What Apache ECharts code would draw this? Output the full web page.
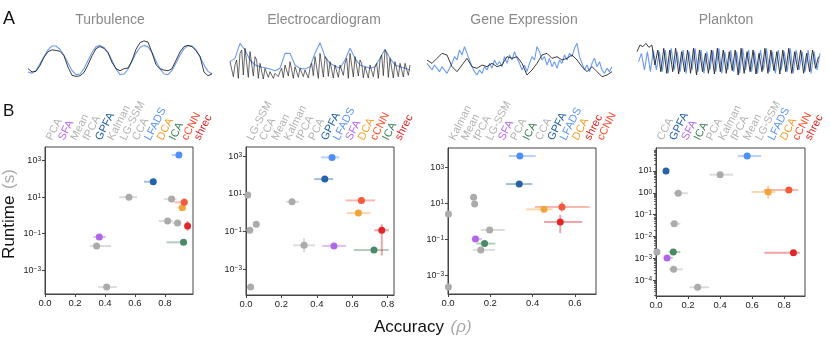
<!DOCTYPE html>
<html><head><meta charset="utf-8">
<script src="https://cdn.jsdelivr.net/npm/echarts@6/dist/echarts.min.js"></script>
<style>html,body{margin:0;padding:0;background:#fff}#c{width:830px;height:341px}</style>
</head><body><div id="c"></div><script>
// ---------- Panel A: example traces (observed = black, model = blue) ----------
const datasetTitles = ['Turbulence', 'Electrocardiogram', 'Gene Expression', 'Plankton'];
const turbulenceObserved = [0.22,0.11,0.13,0.33,0.6,0.79,0.85,0.83,0.8,0.65,0.27,0.0,-0.04,-0.02,0.09,0.35,0.65,0.89,0.96,0.9,0.76,0.43,0.22,0.15,0.22,0.24,0.49,0.87,1.09,1.15,1.11,0.76,0.35,0.22,0.17,0.15,0.22,0.5,0.78,0.96,1.0,0.96,0.82,0.63,0.11,-0.02,0.05];
const turbulenceModel = [0.11,0.07,0.16,0.38,0.63,0.85,0.98,0.98,0.87,0.67,0.41,0.16,0.02,0.04,0.22,0.49,0.76,0.95,1.0,0.93,0.76,0.49,0.22,0.02,0.04,0.2,0.46,0.74,0.93,1.0,0.95,0.76,0.48,0.22,0.04,0.02,0.16,0.41,0.67,0.89,0.99,0.98,0.85,0.61,0.35,0.13,0.04];
const ecgObserved = [5.5,5,1, 4.5,6,0.5, 8,9,1.5, 9.5,9,0.8, 8.5,8,1.2, 7,6,0.5, 5,4.5,0.3, 3.5,3,0.8, 2.5,2.2,0.5, 2,2.3,1, 2.5,3.5,0.7, 4.5,5,1.2, 5.5,5,0.5, 4,3.8,0.8, 3.5,3.2,1, 3,3.3,0.6, 3.5,5,1.3, 7,7.5,0.5, 8,7.5,0.9, 7,6.2,1.1, 5.5,5,0.6, 4.5,4.3,0.8, 4.5,4.8,1.4, 5,6.5,0.5, 8,7.5,0.9, 7,6.5,1.2, 6,5,0.7, 4,4.3,0.6, 4.5,4.2,1, 4,5,0.5, 6,7.5,1.3, 9,8,0.8, 6.5,6,0.6, 5.5,5.2,1, 5,5.1,0.9, 5,4.8,1.4, 4.5];
const ecgModel = [5.5,6.5,11,9,6,4.5,4,3.7,3.3,2.8,3.5,8,8,4.5,3.5,3.3,4,8,11.2,7,5,4.2,3.5,6,9.5,6.5,4.5,4,3.5,4,6.5,9.2,6.5,4.5,4,3.5,3];
const geneObserved = [6,5,6.5,8,7.5,4,2.5,4.5,6.5,4,3.5,4.5,4,5,4,4.5,7,6.5,7,5,1.5,3,5,7.5,8,6.5,7,6,6.5,7.5,6,4,2.5,4,2.5,1,1.5,2.5];
const geneModel = [5,4,3,4.5,3.5,2.5,4,3,2,3.5,5,7,6,9,7.5,10,8,6,4,2.5,1.5,3,2,4,3,5,3.5,6,4.5,5.5,4,7,5,7.5,6,8.5,6.5,5,3,4.5,2.5,5,7,6,10,8.5,6,7,4.5,6.5,4,5.5,3.5,6,5,7.5,6,8,7,9.5,11,7,5,3,4.5,2.5,5,6.5,4,5.5,3,2,3.5,2.5,4];
const planktonObserved = [8.5,10.5,10,11,9.8,10.5,4.5,9,2.5,9.5,2,9,2.5,9.5,1.8,8.5,2.5,9,2,9.5,1.5,9,2.5,8,2,9,1.8,9.5,2.5,9,2,8.5,2.8,9,1.5,9.5,2,8.5,2.5,9,1.8,8,2.5,9.5,2,9,2.8,8.5,1.8,9,2.5,9.5,2,8.5,3,9,2,8,2.5,9,3.5,7];
const planktonModel = [5.5,8,3,8.5,2.5,9,3,8.5,2.5,9,2,9.5,3,8.5,2.5,9,2,8.5,3,9.5,2.5,9,2,8.5,3,9,2.5,9.5,2,8.5,3,9,2.5,8.5,2,9.5,3,9,2.5,8.5,2,9,3,9.5,2.5,8.5,2,9,3,8.5,2.5,9.5,2,9,3,8.5,2.5,9,2,8.5,3,8];

// ---------- Panel B: accuracy vs runtime (log10 seconds) ----------
const turbMethods = ['PCA','SFA','Mean','fPCA','GPFA','Kalman','LG-SSM','CCA','LFADS','DCA','ICA','cCNN','shrec'];
const turbAcc   = [0.344,0.362,0.411,0.56,0.722,0.818,0.844,0.884,0.893,0.916,0.924,0.929,0.951];
const turbAccLo = [0.30,0.322,0.355,0.495,0.66,0.76,0.795,0.85,0.845,0.882,0.81,0.862,0.933];
const turbAccHi = [0.44,0.407,0.478,0.615,0.74,0.855,0.878,0.91,0.9,0.933,0.945,0.945,0.967];
const turbLogRt   = [-1.67,-1.18,-3.92,1.0,1.85,-0.3,0.9,-0.41,3.31,0.43,-1.47,0.72,-0.58];
const turbLogRtLo = [-1.67,-1.18,-3.92,1.0,1.85,-0.3,0.9,-0.41,3.31,0.43,-1.47,0.53,-0.85];
const turbLogRtHi = [-1.67,-1.18,-3.92,1.0,1.85,-0.3,0.9,-0.41,3.31,0.43,-1.47,0.94,-0.3];

const ecgMethods = ['LG-SSM','CCA','Mean','Kalman','fPCA','PCA','GPFA','LFADS','SFA','DCA','cCNN','ICA','shrec'];
const ecgAcc   = [0.01,0.022,0.026,0.058,0.26,0.328,0.445,0.486,0.497,0.635,0.652,0.723,0.767];
const ecgAccLo = [0.0,0.012,0.016,0.048,0.226,0.267,0.386,0.424,0.431,0.569,0.563,0.61,0.725];
const ecgAccHi = [0.02,0.032,0.036,0.068,0.299,0.39,0.493,0.527,0.565,0.704,0.729,0.806,0.808];
const ecgLogRt   = [0.94,-0.93,-3.93,-0.61,0.58,-1.73,1.78,2.93,-1.76,-0.02,0.65,-1.97,-0.93];
const ecgLogRtLo = [0.94,-0.93,-3.93,-0.61,0.58,-2.1,1.78,2.93,-1.76,-0.02,0.65,-1.97,-2.27];
const ecgLogRtHi = [0.94,-0.93,-3.93,-0.61,0.58,-1.35,1.78,2.93,-1.76,-0.02,0.65,-1.97,-0.61];

const geneMethods = ['Kalman','Mean','fPCA','LG-SSM','SFA','PCA','ICA','CCA','GPFA','LFADS','DCA','shrec','cCNN'];
const geneAcc   = [0.002,0.002,0.121,0.126,0.13,0.155,0.173,0.197,0.337,0.34,0.454,0.531,0.539];
const geneAccLo = [0.002,0.002,0.108,0.112,0.112,0.118,0.134,0.155,0.274,0.287,0.37,0.454,0.411];
const geneAccHi = [0.002,0.002,0.135,0.14,0.161,0.221,0.224,0.268,0.399,0.415,0.496,0.635,0.67];
const geneLogRt   = [0.42,-3.65,1.35,0.98,-0.97,-1.58,-1.23,-0.47,2.09,3.65,0.68,-0.03,0.81];
const geneLogRtLo = [0.42,-3.65,1.35,0.98,-0.97,-1.58,-1.23,-0.47,2.09,3.65,0.68,-0.65,0.55];
const geneLogRtHi = [0.42,-3.65,1.35,0.98,-0.97,-1.58,-1.23,-0.47,2.09,3.65,0.68,0.37,1.1];

const planktonMethods = ['CCA','GPFA','SFA','ICA','PCA','Kalman','fPCA','Mean','LG-SSM','LFADS','DCA','cCNN','shrec'];
const planktonAcc   = [0.006,0.0625,0.069,0.108,0.11,0.114,0.139,0.26,0.4,0.569,0.7,0.829,0.858];
const planktonAccLo = [0.006,0.0625,0.048,0.079,0.079,0.085,0.11,0.208,0.335,0.51,0.596,0.673,0.677];
const planktonAccHi = [0.006,0.0625,0.106,0.152,0.167,0.152,0.2,0.333,0.481,0.656,0.746,0.888,0.898];
const planktonLogRt   = [-2.71,1.0,-2.98,-2.71,-3.5,-1.41,-0.02,-4.32,0.83,1.68,0.04,0.13,-2.74];
const planktonLogRtLo = [-2.71,1.0,-2.98,-2.81,-3.5,-1.41,-0.02,-4.32,0.83,1.68,-0.29,0.13,-2.84];
const planktonLogRtHi = [-2.71,1.0,-2.98,-2.61,-3.5,-1.41,-0.02,-4.32,0.83,1.68,0.33,0.13,-2.64];

// ---------- styling ----------
const FONT = '"Liberation Sans", Arial, Helvetica, sans-serif';
const GRAY = '#ababab';
const pointColors = {PCA:GRAY, Mean:GRAY, fPCA:GRAY, Kalman:GRAY, 'LG-SSM':GRAY, CCA:GRAY,
  SFA:'#b066ea', GPFA:'#2463a6', LFADS:'#4f8ff7', DCA:'#f3a33a', ICA:'#4b8a66', cCNN:'#f7573a', shrec:'#e0262a'};
const labelKey = {PCA:'g', Mean:'g', fPCA:'g', Kalman:'g', 'LG-SSM':'g', CCA:'g',
  SFA:'sfa', GPFA:'gpfa', LFADS:'lfads', DCA:'dca', ICA:'ica', cCNN:'ccnn', shrec:'shrec'};
const labelRich = {
  g:{color:'#b3b3b3'}, sfa:{color:'#b36af0'}, gpfa:{color:'#1f5fa5'}, lfads:{color:'#5a95f8'},
  dca:{color:'#f3a030'}, ica:{color:'#3d7f57'}, ccnn:{color:'#ff4a2a'}, shrec:{color:'#e01a1a'}
};
Object.values(labelRich).forEach(s => { s.fontSize = 11; s.fontFamily = FONT; });

const traces = [
  {obs: turbulenceObserved, mod: turbulenceModel, obsStep: 1, modStep: 1, modOff: 0, yMin: -0.16, yMax: 1.18, obsWidth: 0.9,
   grid: {left: 28, top: 40, width: 184, height: 40}},
  {obs: ecgObserved, mod: ecgModel, obsStep: 1 / 3, modStep: 1, modOff: 0, yMin: 0, yMax: 12, obsWidth: 0.7,
   grid: {left: 230, top: 40, width: 180, height: 40}},
  {obs: geneObserved, mod: geneModel, obsStep: 1, modStep: 0.5, modOff: 0, yMin: 0, yMax: 12, obsWidth: 0.9,
   grid: {left: 427, top: 40, width: 185, height: 40}},
  {obs: planktonObserved, mod: planktonModel, obsStep: 1, modStep: 1, modOff: 0.5, yMin: 0, yMax: 12, obsWidth: 0.9,
   grid: {left: 637, top: 40, width: 183, height: 40}}
];
const titleX = [110, 324, 524, 726];

const panels = [
  {m: turbMethods, acc: turbAcc, lo: turbAccLo, hi: turbAccHi, rt: turbLogRt, rtLo: turbLogRtLo, rtHi: turbLogRtHi,
   grid: {left: 45, top: 147, width: 148, height: 147}, xMax: 0.987, yMin: -4.3, yMax: 3.75,
   xTicks: [0, 0.2, 0.4, 0.6, 0.8], yTicks: [-3, -1, 1, 3]},
  {m: ecgMethods, acc: ecgAcc, lo: ecgAccLo, hi: ecgAccHi, rt: ecgLogRt, rtLo: ecgLogRtLo, rtHi: ecgLogRtHi,
   grid: {left: 246, top: 147, width: 148, height: 148}, xMax: 0.836, yMin: -4.36, yMax: 3.48,
   xTicks: [0, 0.2, 0.4, 0.6, 0.8], yTicks: [-3, -1, 1, 3]},
  {m: geneMethods, acc: geneAcc, lo: geneAccLo, hi: geneAccHi, rt: geneLogRt, rtLo: geneLogRtLo, rtHi: geneLogRtHi,
   grid: {left: 448, top: 148, width: 148, height: 146}, xMax: 0.70, yMin: -4.04, yMax: 4.1,
   xTicks: [0, 0.2, 0.4, 0.6], yTicks: [-3, -1, 1, 3]},
  {m: planktonMethods, acc: planktonAcc, lo: planktonAccLo, hi: planktonAccHi, rt: planktonLogRt, rtLo: planktonLogRtLo, rtHi: planktonLogRtHi,
   grid: {left: 656, top: 148, width: 149, height: 148}, xMax: 0.93, yMin: -4.72, yMax: 2.05,
   xTicks: [0, 0.2, 0.4, 0.6, 0.8], yTicks: [-4, -3, -2, -1, 0, 1], minor: true}
];

const grids = [], xAxes = [], yAxes = [], series = [], graphics = [];
const AX = '#444';

traces.forEach((t, k) => {
  grids.push(Object.assign({}, t.grid));
  const maxT = Math.max((t.obs.length - 1) * t.obsStep, (t.mod.length - 1) * t.modStep + t.modOff);
  xAxes.push({gridIndex: k, type: 'value', min: 0, max: maxT, show: false});
  yAxes.push({gridIndex: k, type: 'value', min: t.yMin, max: t.yMax, show: false});
  series.push({type: 'line', xAxisIndex: k, yAxisIndex: k, showSymbol: false, silent: true,
    data: t.mod.map((v, i) => [i * t.modStep + t.modOff, v]),
    lineStyle: {color: '#6a9bf4', width: 1.1}, z: 2});
  series.push({type: 'line', xAxisIndex: k, yAxisIndex: k, showSymbol: false, silent: true,
    data: t.obs.map((v, i) => [i * t.obsStep, v]),
    lineStyle: {color: '#262626', width: t.obsWidth}, z: 3});
  graphics.push({type: 'text', x: titleX[k], y: 20.5, style: {text: datasetTitles[k], fill: '#8a8a8a',
    font: '14px ' + FONT, textAlign: 'center', textVerticalAlign: 'middle'}});
});

const supFmt = v => { const e = Math.round(v); return '{b|10}{s|' + (e < 0 ? '\u2212' : '') + Math.abs(e) + '}'; };

panels.forEach((p, k) => {
  const gi = 4 + k;
  grids.push(Object.assign({show: true, borderColor: AX, borderWidth: 1, backgroundColor: 'transparent'}, p.grid));
  xAxes.push({gridIndex: gi, type: 'value', min: 0, max: p.xMax,
    axisLine: {show: true, onZero: false, lineStyle: {color: AX, width: 1}},
    axisTick: {show: true, length: 3, customValues: p.xTicks, lineStyle: {color: AX}},
    axisLabel: {customValues: p.xTicks, formatter: v => v.toFixed(1), fontSize: 9.5, color: '#222', margin: 4, fontFamily: FONT},
    splitLine: {show: false}});
  yAxes.push({gridIndex: gi, type: 'value', min: p.yMin, max: p.yMax,
    axisLine: {show: true, onZero: false, lineStyle: {color: AX, width: 1}},
    axisTick: {show: true, length: 3, customValues: p.yTicks, lineStyle: {color: AX}},
    axisLabel: {customValues: p.yTicks, formatter: supFmt, margin: 4,
      rich: {b: {fontSize: 9, color: '#222', fontFamily: FONT, verticalAlign: 'bottom'},
             s: {fontSize: 6.5, color: '#222', fontFamily: FONT, verticalAlign: 'top'}}},
    splitLine: {show: false}});
  // error bars
  series.push({type: 'custom', xAxisIndex: gi, yAxisIndex: gi, silent: true, z: 2, clip: false,
    encode: {x: 0, y: 1},
    data: p.m.map((m, i) => [p.acc[i], p.rt[i], p.lo[i], p.hi[i], p.rtLo[i], p.rtHi[i]]),
    renderItem: (params, api) => {
      const c = pointColors[p.m[params.dataIndex]];
      const x = api.value(0), y = api.value(1);
      const a = api.coord([api.value(2), y]), b = api.coord([api.value(3), y]);
      const cLo = api.coord([x, api.value(4)]), cHi = api.coord([x, api.value(5)]);
      const st = {stroke: c, lineWidth: 2, opacity: 0.42};
      const ch = [];
      if (b[0] - a[0] > 0.5) ch.push({type: 'line', shape: {x1: a[0], y1: a[1], x2: b[0], y2: b[1]}, style: st});
      if (cLo[1] - cHi[1] > 0.5) ch.push({type: 'line', shape: {x1: cLo[0], y1: cLo[1], x2: cHi[0], y2: cHi[1]}, style: st});
      return {type: 'group', children: ch};
    }});
  series.push({type: 'scatter', xAxisIndex: gi, yAxisIndex: gi, symbolSize: 7, z: 3, clip: false, silent: true,
    data: p.m.map((m, i) => ({value: [p.acc[i], p.rt[i]], itemStyle: {color: pointColors[m], opacity: 1}}))});
});

// method label axes above each scatter panel
panels.forEach((p, k) => {
  const gi = 8 + k;
  grids.push({left: p.grid.left + 4, width: 148, top: 142, height: 1, show: false});
  xAxes.push({gridIndex: gi, type: 'category', data: p.m, position: 'top', boundaryGap: false,
    axisLine: {show: false}, axisTick: {show: false}, splitLine: {show: false},
    axisLabel: {interval: 0, rotate: 63, margin: 2.5, formatter: v => '{' + labelKey[v] + '|' + v + '}', rich: labelRich}});
  yAxes.push({gridIndex: gi, type: 'value', show: false});
});

// minor log ticks for the plankton panel
const pl = panels[3];
const minorTicks = [];
for (let n = -5; n <= 2; n++) for (let m = 2; m <= 9; m++) {
  const v = n + Math.log10(m);
  if (v > pl.yMin && v < pl.yMax) minorTicks.push(v);
}
yAxes.push({gridIndex: 7, type: 'value', min: pl.yMin, max: pl.yMax, position: 'left',
  axisLine: {show: false}, axisLabel: {show: false}, splitLine: {show: false},
  axisTick: {show: true, length: 2, customValues: minorTicks, lineStyle: {color: AX, width: 0.8}}});

graphics.push({type: 'text', x: 3, y: 19.5, style: {text: 'A', fill: '#111', font: '18px ' + FONT, textVerticalAlign: 'middle'}});
graphics.push({type: 'text', x: 3, y: 111, style: {text: 'B', fill: '#111', font: '17px ' + FONT, textVerticalAlign: 'middle'}});
graphics.push({type: 'text', x: 9, y: 214, rotation: Math.PI / 2, style: {
  text: '{a|Runtime}  {b|(s)}', textAlign: 'center', textVerticalAlign: 'middle',
  rich: {a: {fontSize: 17, fill: '#111', fontFamily: FONT}, b: {fontSize: 17, fill: '#aaa', fontFamily: FONT}}}});
graphics.push({type: 'text', x: 374, y: 327, style: {
  text: '{a|Accuracy}  {b|(\u03c1)}', textAlign: 'left', textVerticalAlign: 'middle',
  rich: {a: {fontSize: 17, fill: '#111', fontFamily: FONT}, b: {fontSize: 17, fill: '#aaa', fontStyle: 'italic', fontFamily: FONT}}}});

const chart = echarts.init(document.getElementById('c'), null, {renderer: 'canvas'});
chart.setOption({
  animation: false,
  textStyle: {fontFamily: FONT},
  grid: grids, xAxis: xAxes, yAxis: yAxes, series: series, graphic: graphics
});
</script></body></html>
